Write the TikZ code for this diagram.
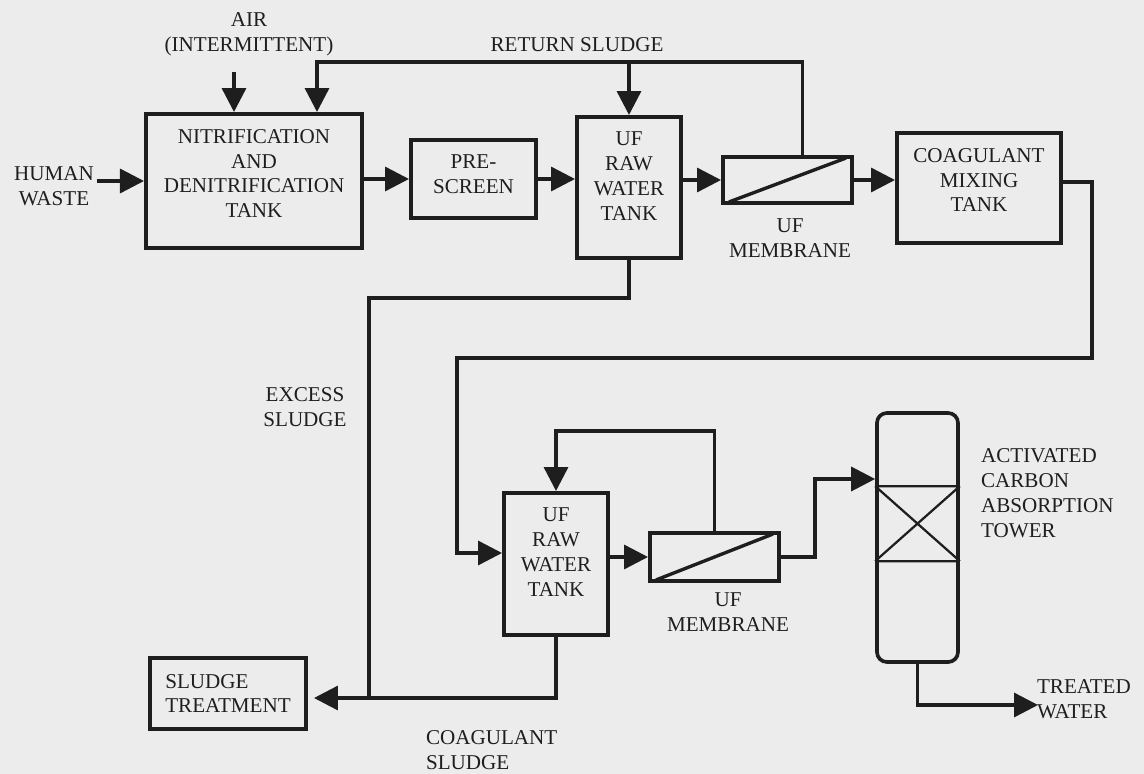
\documentclass[tikz,border=0pt]{standalone}
\usepackage{fontspec}
\setmainfont{Liberation Serif}
\usepackage{tikz}
\usetikzlibrary{positioning, arrows.meta, calc}
\usepackage{xcolor}
\definecolor{paper}{RGB}{236,236,236}
\definecolor{ink}{RGB}{30,30,30}
\tikzset{
    tank/.style={
        rectangle, draw=ink, line width=2.8pt
    },
    tanktext/.style={
        anchor=north, align=center, inner sep=0pt, yshift=-12pt, text=ink
    },
    membrane/.style={
        rectangle, draw=ink, line width=2.8pt,
        minimum width=3.225cm
    },
    flow/.style={
        -{Triangle[length=6mm, width=6mm]}, draw=ink, line width=2.4pt
    },
    pipe/.style={
        draw=ink, line width=2.4pt
    },
    tag/.style={
        align=center, text=ink, inner sep=2pt
    }
}

\begin{document}
\begin{tikzpicture}[
    x=0.025cm, y=-0.025cm,
    every node/.style={font=\fontsize{15}{17.7}\selectfont}
]
\useasboundingbox[fill=paper] (0,0) rectangle (1144,774);

% first stage
\node[tag] (waste) at (54,186) {HUMAN\\WASTE};
\node[tank, minimum width=5.4cm, minimum height=3.35cm,
      label={[tanktext]north:NITRIFICATION\\AND\\DENITRIFICATION\\TANK}] (nitr) at (254,181) {};
\node[tag] (air) at (249,34) {AIR\\(INTERMITTENT)};
\node[tag] (retlabel) at (577,45) {RETURN SLUDGE};
\node[tank, minimum width=3.125cm, minimum height=1.95cm,
      label={[tanktext]north:PRE-\\SCREEN}] (prescreen) at (473.5,179) {};
\node[tank, minimum width=2.6cm, minimum height=3.525cm,
      label={[tanktext]north:UF\\RAW\\WATER\\TANK}] (uf1) at (629,187.5) {};
\node[membrane, minimum height=1.15cm] (mem1) at (787.5,180) {};
\node[tag] (mem1label) at (790,238) {UF\\MEMBRANE};
\node[tank, minimum width=4.1cm, minimum height=2.75cm,
      label={[tanktext]north:COAGULANT\\MIXING\\TANK}] (coag) at (979,188) {};

% second stage
\node[tag] (excess) at (305,407) {EXCESS\\SLUDGE};
\node[tank, minimum width=3.9cm, minimum height=1.775cm, align=left, text=ink] (sludge) at (228,693.5) {SLUDGE\\TREATMENT};
\node[tag, anchor=west, align=left] (coaglabel) at (423,750) {COAGULANT\\SLUDGE};
\node[tank, minimum width=2.6cm, minimum height=3.55cm,
      label={[tanktext]north:UF\\RAW\\WATER\\TANK}] (uf2) at (556,564) {};
\node[membrane, minimum height=1.2cm] (mem2) at (714.5,557) {};
\node[tag] (mem2label) at (728,612) {UF\\MEMBRANE};
\node[rectangle, draw=ink, line width=2.6pt, rounded corners=0.25cm,
      minimum width=2.025cm, minimum height=6.225cm] (tower) at (917.5,537.5) {};
\node[tag, anchor=west, align=left] (towerlabel) at (978,493) {ACTIVATED\\CARBON\\ABSORPTION\\TOWER};
\node[tag, anchor=west, align=left] (treated) at (1034,699) {TREATED\\WATER};

% membrane strokes and carbon bed
\foreach \m in {mem1, mem2}
    \draw[ink, line width=2.4pt] ($(\m.south west)+(8,-3)$) -- ($(\m.north east)+(-8,3)$);
\coordinate (bedtop) at ($(tower.north)+(0,75)$);
\coordinate (bedbot) at ($(tower.north)+(0,150)$);
\draw[ink, line width=1.6pt] (tower.west |- bedtop) -- (tower.east |- bedtop)
    (tower.west |- bedbot) -- (tower.east |- bedbot)
    (tower.west |- bedtop) -- (tower.east |- bedbot)
    (tower.west |- bedbot) -- (tower.east |- bedtop);

% connectors
\coordinate (airin) at (234,72);
\coordinate (rtop) at (317,62);
\draw[flow] (waste.east |- nitr.west) -- (nitr.west);
\draw[flow] (airin) -- (airin |- nitr.north);
\draw[flow] ($(mem1.north)+(15,0)$) |- (rtop) -- (rtop |- nitr.north);
\draw[flow] (uf1.north |- rtop) -- (uf1.north);
\draw[flow] (nitr.east |- prescreen.west) -- (prescreen.west);
\draw[flow] (prescreen.east) -- (prescreen.east -| uf1.west);
\draw[flow] (uf1.east |- mem1.west) -- (mem1.west);
\draw[flow] (mem1.east) -- (mem1.east -| coag.west);
\draw[flow] ($(coag.east)+(0,-6)$) -| (1092,358) -| ($(uf2.west)+(-45,-11)$) -- ($(uf2.west)+(0,-11)$);

\coordinate (xs) at (369,298);
\draw[pipe] (uf1.south) |- (xs) -- (xs |- 0,698);
\draw[flow] (uf2.south) |- ($(sludge.east)+(6,4.5)$);

\draw[flow] (uf2.east |- mem2.west) -- (mem2.west);
\draw[flow] (mem2.north) -- ++(0,-100) -| (uf2.north);
\draw[flow] (mem2.east) -- ++(34,0) |- ($(tower.west)+(0,-58.5)$);
\draw[flow] (tower.south) |- ($(treated.west)+(4,6)$);

\end{tikzpicture}
\end{document}
